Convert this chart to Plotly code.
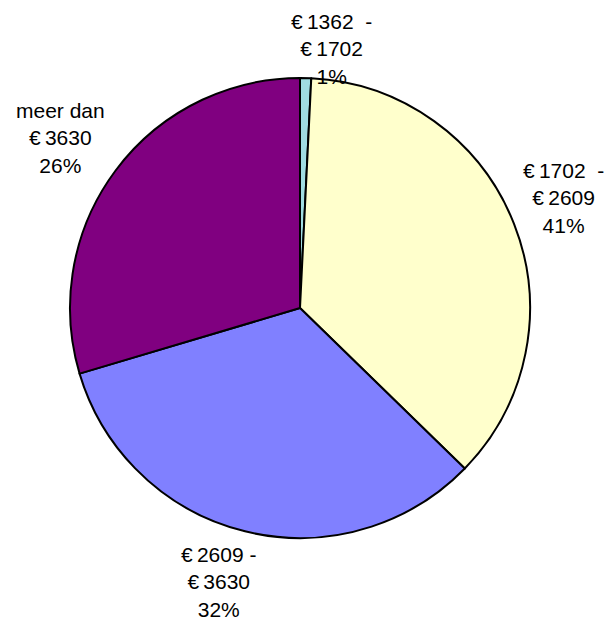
import plotly.graph_objects as go

categories = ["€\u20091362  -<br>€\u20091702", "€\u20091702  -<br>€\u20092609",
              "€\u20092609 -<br>€\u20093630", "meer dan<br>€\u20093630"]
slice_shares = [0.78, 36.5, 33.1, 29.6]
percent_labels = ["1%", "41%", "32%", "26%"]
colors = ["#A0DCE2", "#FFFFCC", "#8080FF", "#800080"]
# label centres (pixels, middle line) for the outside labels
label_px = [(331, 49), (563, 198), (218, 582), (60, 138)]

W, H = 608, 620
cx, cy, r = 300, 308, 230

fig = go.Figure(go.Pie(
    labels=[c.replace("<br>", " ") for c in categories],
    values=slice_shares,
    sort=False,
    direction="clockwise",
    rotation=0,
    marker=dict(colors=colors, line=dict(color="#000000", width=2)),
    textinfo="none",
    hoverinfo="label+percent",
    showlegend=False,
    domain=dict(x=[(cx - r) / W, (cx + r) / W], y=[1 - (cy + r) / H, 1 - (cy - r) / H]),
))

anns = []
for cat, pct, (px, py) in zip(categories, percent_labels, label_px):
    text = cat.replace("  ", "\u00a0\u00a0") + "<br>" + pct
    anns.append(dict(
        x=px / W, y=1 - py / H, xref="paper", yref="paper",
        text=text, showarrow=False, xanchor="center", yanchor="middle",
        font=dict(family="Liberation Sans, Arial, sans-serif", size=21, color="#000000"),
        align="center",
    ))

fig.update_layout(
    width=W, height=H,
    margin=dict(l=0, r=0, t=0, b=0),
    paper_bgcolor="#FFFFFF",
    plot_bgcolor="#FFFFFF",
    annotations=anns,
)

fig.write_html("out.html", config={"displayModeBar": False},
               post_script="document.body.style.margin='0';document.body.style.overflow='hidden';")
